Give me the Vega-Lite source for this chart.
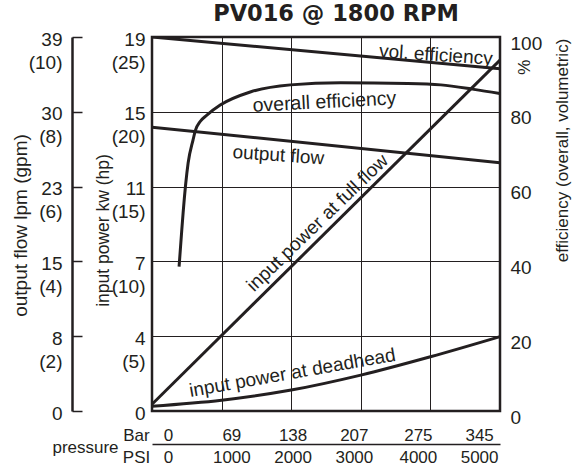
{
  "$schema": "https://vega.github.io/schema/vega-lite/v6.json",
  "width": 348,
  "height": 374,
  "autosize": "none",
  "padding": {"left": 152, "top": 37, "right": 82, "bottom": 58},
  "background": "white",
  "config": {
    "font": "Liberation Sans",
    "view": {"stroke": "#231f20", "strokeWidth": 2.5},
    "axis": {"labelColor": "#231f20", "titleColor": "#231f20", "labelFlush": false, "labelOverlap": false, "labelBound": false, "titleFontWeight": "normal", "titleFont": "Liberation Sans", "labelFont": "Liberation Sans"}
  },
  "title": {"text": "PV016 @ 1800 RPM", "fontSize": 22.5, "fontWeight": "bold", "font": "DejaVu Sans", "color": "#231f20", "frame": "group", "anchor": "middle", "baseline": "alphabetic", "offset": 6, "dy": 19, "dx": 10},
  "resolve": {"axis": {"x": "independent", "y": "independent"}},
  "layer": [
    {
      "data": {"values": [
        {"series": "vol", "psi": 0, "pct": 100},
        {"series": "vol", "psi": 5000, "pct": 91.5},
        {"series": "flow", "psi": 0, "pct": 75.9},
        {"series": "flow", "psi": 5000, "pct": 66.4},
        {"series": "full", "psi": 0, "pct": 1.8},
        {"series": "full", "psi": 5000, "pct": 93.8}
      ]},
      "mark": {"type": "line", "stroke": "#231f20", "strokeWidth": 3, "clip": true},
      "encoding": {
        "x": {"field": "psi", "type": "quantitative", "scale": {"domain": [0, 5000], "nice": false, "zero": false},
          "axis": {"orient": "bottom", "values": [1000, 2000, 3000, 4000], "grid": true, "gridColor": "#231f20", "gridWidth": 1, "gridOpacity": 1, "labels": false, "ticks": false, "domain": false, "title": null}},
        "y": {"field": "pct", "type": "quantitative", "scale": {"domain": [0, 100], "nice": false},
          "axis": {"orient": "right", "values": [0, 20, 40, 60, 80, 100], "grid": true, "gridColor": "#231f20", "gridWidth": 1, "gridOpacity": 1, "ticks": false, "domain": false, "labelPadding": 10, "labelFontSize": 19, "labelAlign": "left", "labelBaseline": "middle", "labelOffset": 6,
            "title": "efficiency (overall, volumetric)", "titleFontSize": 17, "titleAngle": 270, "titleX": 62, "titleY": 113, "titleAlign": "center", "titleBaseline": "middle"}},
        "detail": {"field": "series"}
      }
    },
    {
      "data": {"values": [
        {"psi": 389, "pct": 38.6},
        {"psi": 428, "pct": 48.4},
        {"psi": 447, "pct": 53},
        {"psi": 519, "pct": 66.3},
        {"psi": 590, "pct": 72.5},
        {"psi": 625, "pct": 75.1},
        {"psi": 692, "pct": 77.4},
        {"psi": 788, "pct": 79.1},
        {"psi": 980, "pct": 81.8},
        {"psi": 1412, "pct": 85.3},
        {"psi": 1988, "pct": 87.2},
        {"psi": 2709, "pct": 87.8},
        {"psi": 3674, "pct": 87.6},
        {"psi": 4150, "pct": 87.2},
        {"psi": 4625, "pct": 86.0},
        {"psi": 5000, "pct": 84.9}
      ]},
      "mark": {"type": "line", "stroke": "#231f20", "strokeWidth": 3, "interpolate": "monotone"},
      "encoding": {
        "x": {"field": "psi", "type": "quantitative",
          "axis": {"orient": "bottom", "values": [230, 1140, 2020, 2900, 3820, 4700],
            "labelExpr": "datum.value < 500 ? '0' : datum.value < 1500 ? '69' : datum.value < 2500 ? '138' : datum.value < 3500 ? '207' : datum.value < 4300 ? '275' : '345'",
            "grid": false, "ticks": false, "tickSize": 0, "domain": false, "labelPadding": 24, "labelBaseline": "middle", "labelAlign": "center", "labelFontSize": 17,
            "title": "Bar", "titleX": -16, "titleY": 24, "titleFontSize": 17, "titleBaseline": "middle", "titleAlign": "center"}},
        "y": {"field": "pct", "type": "quantitative",
          "axis": {"orient": "left", "values": [0, 20, 40, 60, 80, 100],
            "labelExpr": "datum.value == 100 ? ['19','(25)'] : datum.value == 80 ? ['15','(20)'] : datum.value == 60 ? ['11','(15)'] : datum.value == 40 ? ['7','(10)'] : datum.value == 20 ? ['4','(5)'] : '0'",
            "grid": false, "ticks": false, "tickSize": 0, "domain": false, "labelPadding": 7, "labelFontSize": 19, "labelLineHeight": 23, "labelBaseline": "top", "labelOffset": -7, "labelAlign": "right",
            "title": "input power kw (hp)", "titleFontSize": 17.5, "titleAngle": 270, "titleX": -49, "titleY": 193, "titleAlign": "center", "titleBaseline": "middle"}}
      }
    },
    {
      "data": {"values": [
        {"psi": 0, "pct": 1.3},
        {"psi": 1000, "pct": 2.9},
        {"psi": 2000, "pct": 5.6},
        {"psi": 3000, "pct": 9.6},
        {"psi": 4000, "pct": 14.5},
        {"psi": 5000, "pct": 19.9}
      ]},
      "mark": {"type": "line", "stroke": "#231f20", "strokeWidth": 3, "interpolate": "monotone"},
      "encoding": {
        "x": {"field": "psi", "type": "quantitative",
          "axis": {"orient": "bottom", "offset": 33, "values": [230, 1140, 2020, 2900, 3820, 4700],
            "labelExpr": "datum.value < 500 ? '0' : datum.value < 1500 ? '1000' : datum.value < 2500 ? '2000' : datum.value < 3500 ? '3000' : datum.value < 4300 ? '4000' : '5000'",
            "grid": false, "ticks": false, "tickSize": 0, "domain": true, "domainColor": "#231f20", "domainWidth": 1.5, "labelPadding": 13, "labelBaseline": "middle", "labelAlign": "center", "labelFontSize": 17,
            "title": "PSI", "titleX": -16, "titleY": 13, "titleFontSize": 17, "titleBaseline": "middle", "titleAlign": "center"}},
        "y": {"field": "pct", "type": "quantitative",
          "axis": {"orient": "left", "offset": 80, "values": [0, 20, 40, 60, 80, 100],
            "labelExpr": "datum.value == 100 ? ['39','(10)'] : datum.value == 80 ? ['30','(8)'] : datum.value == 60 ? ['23','(6)'] : datum.value == 40 ? ['15','(4)'] : datum.value == 20 ? ['8','(2)'] : '0'",
            "grid": false, "ticks": true, "tickSize": -10, "tickWidth": 1.5, "tickColor": "#231f20", "domain": true, "domainColor": "#231f20", "domainWidth": 2.5, "labelPadding": 20, "labelFontSize": 19, "labelLineHeight": 23, "labelBaseline": "top", "labelOffset": -7, "labelAlign": "right",
            "title": "output flow lpm (gpm)", "titleFontSize": 19, "titleAngle": 270, "titleX": -52, "titleY": 188, "titleAlign": "center", "titleBaseline": "middle"}}
      }
    },
    {
      "data": {"values": [{"psi": 4078, "pct": 95.2, "label": "vol. efficiency"}]},
      "mark": {"type": "text", "font": "Liberation Sans", "fontSize": 19, "color": "#231f20", "align": "center", "baseline": "middle", "angle": 4},
      "encoding": {
        "x": {"field": "psi", "type": "quantitative",
          "axis": {"orient": "bottom", "labels": false, "ticks": false, "domain": false, "grid": false,
            "title": "pressure", "titleX": -67, "titleY": 36, "titleFontSize": 17, "titleBaseline": "middle", "titleAlign": "center"}},
        "y": {"field": "pct", "type": "quantitative",
          "axis": {"orient": "right", "values": [92], "labelExpr": "'%'", "labelAngle": 90, "labelAlign": "center", "labelBaseline": "middle", "labelPadding": 22, "labelFontSize": 17, "ticks": false, "domain": false, "grid": false, "title": null}},
        "text": {"field": "label"}
      }
    },
    {
      "data": {"values": [{"psi": 2478, "pct": 82.6, "label": "overall efficiency"}]},
      "mark": {"type": "text", "font": "Liberation Sans", "fontSize": 19.5, "color": "#231f20", "align": "center", "baseline": "middle", "angle": -3},
      "encoding": {
        "x": {"field": "psi", "type": "quantitative", "axis": null},
        "y": {"field": "pct", "type": "quantitative", "axis": null},
        "text": {"field": "label"}
      }
    },
    {
      "data": {"values": [{"psi": 1816, "pct": 68.4, "label": "output flow"}]},
      "mark": {"type": "text", "font": "Liberation Sans", "fontSize": 19, "color": "#231f20", "align": "center", "baseline": "middle", "angle": 4},
      "encoding": {
        "x": {"field": "psi", "type": "quantitative", "axis": null},
        "y": {"field": "pct", "type": "quantitative", "axis": null},
        "text": {"field": "label"}
      }
    },
    {
      "data": {"values": [{"psi": 2378, "pct": 50.3, "label": "input power at full flow"}]},
      "mark": {"type": "text", "font": "Liberation Sans", "fontSize": 19, "color": "#231f20", "align": "center", "baseline": "middle", "angle": -44},
      "encoding": {
        "x": {"field": "psi", "type": "quantitative", "axis": null},
        "y": {"field": "pct", "type": "quantitative", "axis": null},
        "text": {"field": "label"}
      }
    },
    {
      "data": {"values": [{"psi": 2017, "pct": 10.2, "label": "input power at deadhead"}]},
      "mark": {"type": "text", "font": "Liberation Sans", "fontSize": 19, "color": "#231f20", "align": "center", "baseline": "middle", "angle": -10},
      "encoding": {
        "x": {"field": "psi", "type": "quantitative", "axis": null},
        "y": {"field": "pct", "type": "quantitative", "axis": null},
        "text": {"field": "label"}
      }
    }
  ]
}
